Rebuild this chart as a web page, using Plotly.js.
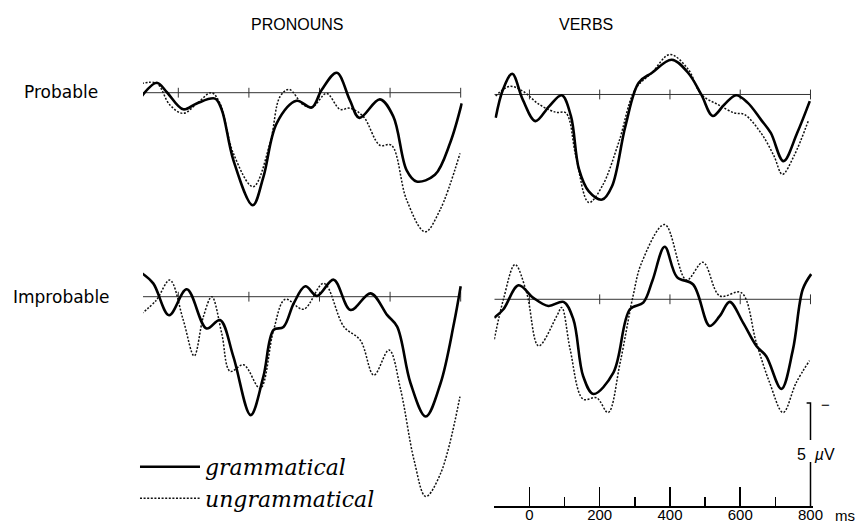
<!DOCTYPE html>
<html>
<head>
<meta charset="utf-8">
<script src="https://cdn.plot.ly/plotly-3.0.1.min.js"></script>
<style>
body { margin: 0; background: #fff; }
#plot { width: 856px; height: 524px; }
</style>
</head>
<body>
<div id="plot"></div>
<script>
// ERP traces: time in ms, amplitude in µV (negative plotted up)
var ppGramT = [-104, -61, -33, 14, 52, 104, 123, 156, 211, 241, 279, 335, 378, 406, 449, 486, 513, 571, 609, 647, 675, 727, 770, 803];
var ppGramV = [0.5, -1.35, -0.1, 2.25, 1.45, 0.8, 2.3, 9.1, 15.2, 11.4, 4.1, 1.1, 2.0, -0.35, -2.7, 1.0, 3.4, 0.9, 3.2, 10.5, 12.0, 11.1, 6.8, 1.45];
var ppUngT = [-104, -61, -24, 14, 52, 94, 118, 156, 212, 260, 288, 314, 354, 381, 420, 458, 486, 524, 571, 604, 647, 699, 741, 798];
var ppUngV = [-1.25, -1.25, 1.65, 2.8, 1.5, 0.0, 1.45, 8.2, 12.7, 6.8, 0.55, -0.45, 1.65, 1.9, 0.1, 2.25, 2.1, 3.2, 7.1, 7.1, 14.5, 18.8, 15.9, 8.2];

var vpGramT = [-96, -75, -49, -19, 17, 56, 92, 118, 141, 169, 207, 235, 273, 311, 348, 405, 452, 489, 522, 555, 588, 621, 659, 687, 723, 762, 798];
var vpGramV = [3.15, -0.7, -2.8, 0.7, 3.6, 1.6, 0.1, 2.9, 10.1, 13.1, 14.2, 12.4, 4.3, -1.6, -2.9, -4.7, -2.9, 0.0, 2.9, 1.35, 0.1, 1.1, 3.4, 5.2, 9.0, 5.2, 0.9];
var vpUngT = [-96, -56, -19, 28, 75, 104, 132, 169, 207, 254, 301, 348, 400, 452, 489, 536, 584, 612, 659, 696, 720, 753, 795];
var vpUngV = [0.2, -1.1, -0.45, 1.35, 2.4, 2.5, 8.3, 14.6, 12.4, 6.5, -0.7, -2.9, -5.4, -3.4, 0.0, 1.35, 2.5, 2.7, 5.2, 8.3, 10.8, 8.3, 3.4];

var piGramT = [-104, -71, -26, 24, 80, 118, 156, 205, 241, 270, 298, 327, 360, 393, 440, 488, 545, 592, 620, 658, 701, 743, 781, 800];
var piGramV = [-3.2, -1.8, 2.5, -1.0, 4.3, 3.15, 8.1, 16.0, 10.8, 4.5, 4.1, 0.9, -1.4, -0.1, -2.3, 1.8, -0.45, 2.5, 4.05, 11.7, 16.2, 11.7, 3.6, -1.4];
var piUngT = [-104, -62, -24, 14, 45, 71, 95, 123, 147, 185, 232, 270, 303, 355, 412, 469, 516, 554, 597, 630, 668, 701, 743, 798];
var piUngV = [2.3, 0.45, -2.25, 3.15, 8.0, 2.7, 0.0, 4.95, 10.1, 9.2, 12.4, 4.5, 0.35, 1.7, -1.8, 4.05, 5.9, 10.6, 7.2, 12.6, 22.1, 27.0, 23.9, 13.5];

var viGramT = [-100, -74, -31, 11, 54, 97, 125, 153, 182, 239, 286, 324, 350, 385, 420, 466, 513, 542, 570, 608, 646, 674, 717, 750, 778, 802];
var viGramV = [2.5, 1.35, -1.9, -0.2, 0.9, 0.35, 2.7, 10.4, 12.8, 9.9, 1.35, 0.45, -2.5, -7.1, -3.0, -2.0, 3.6, 2.25, 0.35, 3.15, 6.3, 7.7, 12.1, 6.8, -1.35, -3.4];
var viUngT = [-100, -74, -41, -8, 26, 78, 92, 116, 153, 191, 224, 258, 295, 319, 385, 447, 494, 542, 603, 646, 684, 722, 759, 797];
var viUngV = [5.4, 0.0, -4.7, -0.9, 6.3, 2.25, 1.1, 6.8, 13.5, 13.3, 15.3, 8.6, -0.45, -4.9, -10.1, -2.6, -5.0, -0.45, -0.9, 5.9, 11.3, 15.3, 11.3, 8.3];

var baseT = [-100, 800];
var baseTicks = [0, 200, 400, 600, 800];
var timeMajor = [0, 200, 400, 600, 800];
var timeMinor = [100, 300, 500, 700];
var timeLabels = ['0', '200', '400', '600', '800'];
var scaleTop = 14, scaleSize = 5;

var panels = [
    { xa: 'x', ya: 'y', gT: ppGramT, gV: ppGramV, uT: ppUngT, uV: ppUngV },
    { xa: 'x2', ya: 'y2', gT: vpGramT, gV: vpGramV, uT: vpUngT, uV: vpUngV },
    { xa: 'x3', ya: 'y3', gT: piGramT, gV: piGramV, uT: piUngT, uV: piUngV, legend: true },
    { xa: 'x4', ya: 'y4', gT: viGramT, gV: viGramV, uT: viUngT, uV: viUngV }
];

var data = [];
panels.forEach(function (p) {
    data.push({
        x: baseT, y: [0, 0], xaxis: p.xa, yaxis: p.ya, mode: 'lines',
        line: { color: '#333', width: 1 }, showlegend: false, hoverinfo: 'skip'
    });
    data.push({
        x: baseTicks, y: baseTicks.map(function () { return 0; }), xaxis: p.xa, yaxis: p.ya,
        mode: 'markers', marker: { symbol: 'line-ns', size: 7, line: { color: '#333', width: 1 } },
        showlegend: false, hoverinfo: 'skip'
    });
    data.push({
        x: p.uT, y: p.uV, xaxis: p.xa, yaxis: p.ya, mode: 'lines',
        line: { color: '#111', width: 1.5, dash: '2px,1.6px', shape: 'spline', smoothing: 1 },
        name: '<i>ungrammatical</i>', showlegend: !!p.legend, legendrank: 2
    });
    data.push({
        x: p.gT, y: p.gV, xaxis: p.xa, yaxis: p.ya, mode: 'lines',
        line: { color: '#000', width: 2.6, shape: 'spline', smoothing: 1 },
        name: '<i>grammatical</i>', showlegend: !!p.legend, legendrank: 1
    });
});

// calibration bar drawn on the lower right axes
data.push({
    x: [789, 800, 800, null, 800, 800],
    y: [scaleTop, scaleTop, scaleTop + scaleSize, null, 22, 28],
    xaxis: 'x4', yaxis: 'y4', mode: 'lines',
    line: { color: '#000', width: 1.5 }, showlegend: false, hoverinfo: 'skip'
});

function hidden(domain, range, anchor) {
    return {
        domain: domain, range: range, anchor: anchor, autorange: false,
        showgrid: false, zeroline: false, showline: false, showticklabels: false, ticks: ''
    };
}

function label(text, x, y, font) {
    return {
        text: text, x: x, y: y, xref: 'paper', yref: 'paper',
        xanchor: 'center', yanchor: 'middle', showarrow: false, font: font
    };
}

var leftDom = [0.16706, 0.54065];
var rightDom = [0.57745, 0.94930];
var xr = [-100, 806];

var layout = {
    width: 856,
    height: 524,
    margin: { l: 0, r: 0, t: 0, b: 0 },
    paper_bgcolor: '#fff',
    plot_bgcolor: 'rgba(0,0,0,0)',
    font: { family: 'Liberation Sans', color: '#000' },
    xaxis: hidden(leftDom, xr, 'y'),
    yaxis: hidden([0.5124, 0.9502], [22, -9], 'x'),
    xaxis2: hidden(rightDom, xr, 'y2'),
    yaxis2: hidden([0.5090, 0.9468], [22, -9], 'x2'),
    xaxis3: hidden(leftDom, xr, 'y3'),
    yaxis3: hidden([0.0384, 0.5609], [28, -9], 'x3'),
    xaxis4: {
        domain: rightDom, range: xr, anchor: 'y4', autorange: false,
        showgrid: false, zeroline: false,
        showline: true, linecolor: '#000', linewidth: 1.5,
        ticks: 'inside', ticklen: 19, tickwidth: 1.5, tickcolor: '#000',
        tickvals: timeMajor, ticktext: timeLabels, ticklabelstandoff: -6,
        tickfont: { family: 'Liberation Sans', size: 15, color: '#000' },
        minor: { tickvals: timeMinor, ticks: 'inside', ticklen: 9, tickwidth: 1.5, tickcolor: '#000' }
    },
    yaxis4: hidden([0.0334, 0.5983], [28, -12], 'x4'),
    showlegend: true,
    legend: {
        x: 0.1577, y: 0.149, xanchor: 'left', yanchor: 'top',
        bgcolor: 'rgba(0,0,0,0)', itemwidth: 60, traceorder: 'normal',
        font: { family: 'DejaVu Serif', size: 22, color: '#000' }
    },
    annotations: [
        label('PRONOUNS', 0.347, 0.954, { size: 16 }),
        label('VERBS', 0.6846, 0.954, { size: 16 }),
        label('Probable', 0.0713, 0.8244, { family: 'DejaVu Sans', size: 17 }),
        label('Improbable', 0.0724, 0.4332, { family: 'DejaVu Sans', size: 17 }),
        label('\u2212', 0.9638, 0.229, { size: 15 }),
        label('5\u00a0\u00a0<i>\u00b5</i>V', 0.953, 0.1317, { size: 16 }),
        label('ms', 0.987, 0.016, { size: 15 })
    ]
};

Plotly.newPlot('plot', data, layout, { displayModeBar: false, staticPlot: true });
</script>
</body>
</html>
